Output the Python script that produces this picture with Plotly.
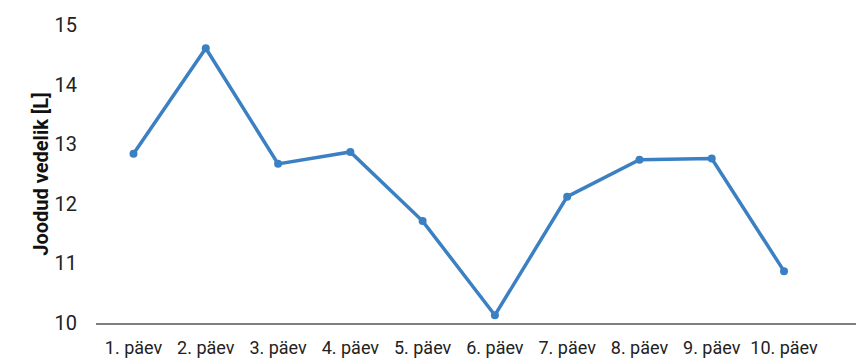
import plotly.graph_objects as go

# Daily fluid intake over ten days
days = ["1. päev", "2. päev", "3. päev", "4. päev", "5. päev",
        "6. päev", "7. päev", "8. päev", "9. päev", "10. päev"]
litres = [12.84, 14.61, 12.67, 12.87, 11.71, 10.13, 12.12, 12.74, 12.76, 10.87]
y_ticks = [10, 11, 12, 13, 14, 15]

FONT = "Roboto"
LINE_COLOR = "#3b80c3"

fig = go.Figure()
fig.add_trace(go.Scatter(
    x=days, y=litres,
    mode="lines+markers",
    line=dict(color=LINE_COLOR, width=3.5),
    marker=dict(color=LINE_COLOR, size=8),
    showlegend=False, hoverinfo="x+y",
))

fig.update_layout(
    width=868, height=361,
    margin=dict(l=96, r=12, t=25, b=38),
    paper_bgcolor="white", plot_bgcolor="white",
    font=dict(family=FONT, size=18, color="#222222"),
    xaxis=dict(
        type="category", categoryarray=days, categoryorder="array",
        range=[-0.519, 9.996], automargin=False,
        showline=True, linecolor="#7f7f7f", linewidth=1.5,
        showgrid=False, zeroline=False,
        ticks="outside", ticklen=8, tickcolor="rgba(0,0,0,0)",
        tickfont=dict(family=FONT, size=18, color="#222222"),
    ),
    yaxis=dict(
        range=[10, 15], tickvals=y_ticks, automargin=True,
        showline=False, showgrid=False, zeroline=False,
        ticks="outside", ticklen=14, tickcolor="rgba(0,0,0,0)",
        tickfont=dict(family=FONT, size=20, color="#222222"),
        title=dict(text="<b>Joodud vedelik [L]</b>",
                   font=dict(family=FONT, size=20, color="#111111"),
                   standoff=0),
    ),
)

fig.write_html("out.html")
